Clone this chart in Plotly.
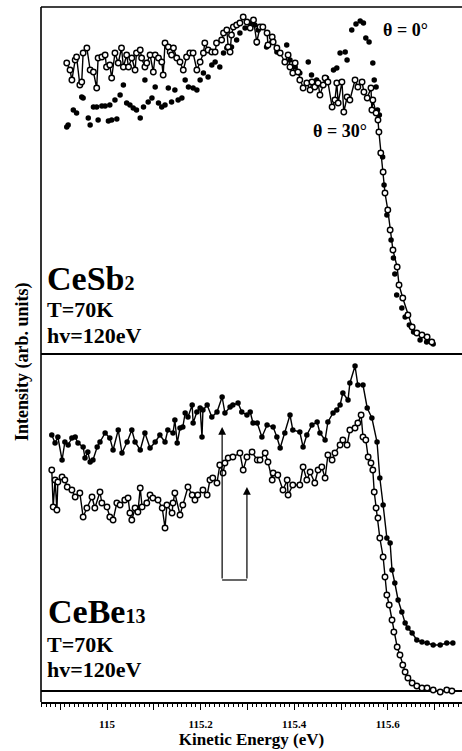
import plotly.graph_objects as go

# ---------------- data ----------------
# CeSb2, theta = 30 deg (open circles, joined)
sb30_x = [114.914, 114.921, 114.925, 114.932, 114.935, 114.942, 114.946, 114.949, 114.957, 114.964,
          114.971, 114.978, 114.981, 114.989, 114.996, 114.999, 115.006, 115.010, 115.017, 115.024,
          115.031, 115.035, 115.042, 115.046, 115.053, 115.060, 115.063, 115.071, 115.074, 115.081,
          115.085, 115.092, 115.099, 115.103, 115.110, 115.117, 115.120, 115.124, 115.131, 115.135,
          115.138, 115.142, 115.149, 115.156, 115.163, 115.170, 115.177, 115.184, 115.192, 115.199,
          115.206, 115.209, 115.216, 115.224, 115.231, 115.234, 115.245, 115.249, 115.256, 115.259,
          115.263, 115.266, 115.270, 115.277, 115.284, 115.291, 115.299, 115.306, 115.313, 115.320,
          115.327, 115.333, 115.342, 115.344, 115.353, 115.355, 115.363, 115.370, 115.380, 115.387,
          115.391, 115.397, 115.402, 115.408, 115.412, 115.419, 115.427, 115.434, 115.438, 115.444,
          115.451, 115.455, 115.462, 115.466, 115.472, 115.481, 115.487, 115.491, 115.494, 115.502,
          115.506, 115.513, 115.519, 115.530, 115.536, 115.545, 115.549, 115.556, 115.564, 115.566,
          115.568, 115.575, 115.579, 115.581, 115.585, 115.590, 115.594, 115.600, 115.605, 115.611,
          115.620, 115.624, 115.632, 115.643, 115.652, 115.662, 115.673, 115.684, 115.694]
sb30_y = [291, 284, 274, 294, 297, 269, 272, 301, 306, 284,
          282, 266, 296, 297, 299, 287, 289, 276, 301, 291,
          306, 287, 299, 287, 296, 284, 301, 304, 296, 287,
          291, 299, 282, 299, 296, 292, 279, 311, 307, 302,
          299, 306, 296, 292, 284, 297, 301, 301, 284, 292,
          301, 311, 304, 302, 302, 311, 314, 321, 324, 307,
          302, 319, 327, 329, 331, 337, 332, 326, 334, 312,
          327, 327, 321, 309, 317, 312, 306, 301, 292, 299,
          287, 281, 291, 282, 274, 266, 271, 264, 272, 267,
          271, 259, 269, 276, 272, 247, 254, 271, 251, 272,
          242, 257, 254, 274, 267, 272, 262, 256, 266, 244,
          254, 241, 234, 222, 201, 182, 161, 144, 124, 104,
          87, 69, 56, 39, 27, 21, 19, 17, 12]

# CeSb2, theta = 0 deg (filled dots, not joined)
sb0_x = [114.914, 114.917, 114.928, 114.935, 114.946, 114.949, 114.960, 114.964, 114.971, 114.978,
         114.981, 114.989, 114.996, 115.003, 115.006, 115.010, 115.017, 115.021, 115.028, 115.035,
         115.042, 115.049, 115.056, 115.063, 115.071, 115.078, 115.081, 115.088, 115.096, 115.103,
         115.110, 115.117, 115.124, 115.131, 115.138, 115.145, 115.152, 115.160, 115.167, 115.174,
         115.184, 115.192, 115.199, 115.206, 115.216, 115.224, 115.231, 115.241, 115.249, 115.256,
         115.266, 115.277, 115.284, 115.295, 115.306, 115.316, 115.323, 115.320, 115.341, 115.363,
         115.384, 115.391, 115.402, 115.412, 115.430, 115.437, 115.448, 115.459, 115.469, 115.484,
         115.491, 115.498, 115.509, 115.513, 115.523, 115.532, 115.541, 115.548, 115.553, 115.560,
         115.568, 115.571, 115.575, 115.578, 115.582, 115.589, 115.592, 115.598, 115.607, 115.612,
         115.615, 115.619, 115.630, 115.637, 115.646, 115.655, 115.669, 115.683, 115.697]
sb0_y = [227, 229, 244, 241, 257, 256, 236, 229, 247, 247,
         234, 248, 248, 233, 249, 234, 254, 235, 259, 269,
         251, 249, 246, 244, 236, 247, 274, 252, 256, 267,
         251, 247, 249, 266, 252, 264, 254, 256, 274, 267,
         266, 264, 274, 281, 277, 289, 292, 287, 301, 306,
         307, 314, 321, 326, 331, 329, 324, 311, 307, 302,
         309, 294, 287, 281, 292, 279, 274, 269, 276, 284,
         286, 301, 302, 294, 324, 330, 333, 331, 316, 312,
         291, 274, 267, 244, 239, 197, 169, 139, 114, 96,
         80, 59, 46, 37, 29, 22, 14, 12, 10]

# CeBe13, upper curve (filled circles, joined)
be_a_x = [114.882, 114.889, 114.895, 114.904, 114.910, 114.917, 114.925, 114.932, 114.938, 114.949,
          114.953, 114.959, 114.964, 114.970, 114.979, 114.985, 114.996, 115.006, 115.013, 115.024,
          115.032, 115.043, 115.053, 115.060, 115.071, 115.081, 115.092, 115.103, 115.113, 115.124,
          115.130, 115.141, 115.145, 115.150, 115.156, 115.162, 115.167, 115.173, 115.182, 115.184,
          115.192, 115.199, 115.203, 115.205, 115.214, 115.224, 115.235, 115.246, 115.252, 115.263,
          115.269, 115.280, 115.288, 115.299, 115.306, 115.312, 115.321, 115.331, 115.342, 115.355,
          115.363, 115.370, 115.380, 115.391, 115.397, 115.412, 115.419, 115.427, 115.438, 115.449,
          115.455, 115.466, 115.472, 115.483, 115.491, 115.498, 115.504, 115.515, 115.519, 115.530,
          115.536, 115.547, 115.556, 115.566, 115.577, 115.583, 115.590, 115.598, 115.605, 115.609,
          115.615, 115.622, 115.630, 115.637, 115.643, 115.652, 115.662, 115.673, 115.684, 115.697,
          115.712, 115.726, 115.739]
be_a_y = [256, 248, 254, 231, 249, 246, 253, 254, 248, 244,
          233, 239, 229, 231, 244, 249, 258, 253, 241, 261,
          238, 249, 261, 249, 241, 258, 243, 249, 256, 249,
          261, 258, 271, 248, 263, 264, 278, 274, 286, 268,
          279, 283, 254, 281, 286, 274, 279, 294, 278, 284,
          286, 288, 279, 276, 279, 268, 268, 254, 266, 264,
          254, 243, 258, 276, 261, 259, 244, 256, 266, 269,
          258, 251, 269, 278, 281, 286, 298, 291, 308, 325,
          306, 306, 283, 273, 249, 213, 186, 153, 148, 121,
          108, 91, 79, 68, 63, 58, 51, 49, 48, 46,
          46, 48, 48]

# CeBe13, lower curve (open circles, joined)
be_b_x = [114.882, 114.885, 114.889, 114.893, 114.895, 114.904, 114.910, 114.915, 114.925, 114.932,
          114.942, 114.949, 114.957, 114.968, 114.974, 114.985, 114.989, 115.000, 115.006, 115.013,
          115.021, 115.028, 115.038, 115.045, 115.049, 115.053, 115.060, 115.066, 115.071, 115.075,
          115.085, 115.092, 115.098, 115.109, 115.118, 115.124, 115.128, 115.139, 115.141, 115.145,
          115.156, 115.162, 115.173, 115.182, 115.188, 115.194, 115.205, 115.214, 115.220, 115.226,
          115.235, 115.241, 115.248, 115.252, 115.259, 115.269, 115.284, 115.291, 115.299, 115.310,
          115.321, 115.327, 115.338, 115.344, 115.353, 115.355, 115.365, 115.376, 115.385, 115.387,
          115.397, 115.412, 115.419, 115.427, 115.434, 115.444, 115.451, 115.459, 115.466, 115.472,
          115.481, 115.487, 115.498, 115.504, 115.513, 115.519, 115.530, 115.536, 115.543, 115.547,
          115.553, 115.558, 115.564, 115.568, 115.571, 115.575, 115.579, 115.583, 115.590, 115.594,
          115.598, 115.603, 115.609, 115.613, 115.620, 115.626, 115.632, 115.637, 115.643, 115.652,
          115.662, 115.673, 115.684, 115.697, 115.712, 115.726, 115.737]
be_b_y = [221, 184, 211, 181, 209, 214, 211, 204, 201, 194,
          198, 174, 183, 194, 183, 199, 188, 184, 174, 171,
          188, 186, 191, 193, 178, 171, 183, 179, 203, 184,
          188, 196, 193, 191, 183, 163, 186, 178, 188, 198,
          176, 186, 204, 196, 191, 196, 201, 196, 211, 213,
          208, 226, 218, 228, 233, 234, 238, 221, 234, 239,
          231, 231, 238, 229, 211, 218, 216, 201, 211, 196,
          206, 206, 224, 211, 219, 208, 221, 224, 213, 236,
          231, 238, 246, 251, 246, 261, 263, 268, 276, 254,
          251, 234, 228, 221, 199, 183, 173, 153, 134, 114,
          96, 86, 71, 59, 44, 36, 26, 19, 13, 8,
          5, 3, 3, 1, -1, 1, 0]

# arrows marking the two peak positions (eV) and their extent (intensity)
arrow_x = [115.246, 115.299]
arrow_tip_y = [264, 204]
arrow_base_y = 111

tick_vals = [114.9, 115.0, 115.1, 115.2, 115.3, 115.4, 115.5, 115.6, 115.7]
tick_text = ["", "115", "", "115.2", "", "115.4", "", "115.6", ""]

# ---------------- figure ----------------
W, H = 462, 751
ML, MR, MT, MB = 41, 0, 7, 49
PW, PH = W - ML - MR, H - MT - MB
SPLIT = (702 - 354) / PH

SERIF = "Liberation Serif"
BLACK = "black"

fig = go.Figure()
line_style = dict(color=BLACK, width=1.4)
fill_marker = dict(symbol="circle", size=5.5, color=BLACK)
open_marker = dict(symbol="circle", size=5.5, color="white", line=dict(width=1.4, color=BLACK))

fig.add_trace(go.Scatter(x=sb0_x, y=sb0_y, mode="markers", marker=fill_marker,
                         xaxis="x2", yaxis="y2", name="θ = 0°"))
fig.add_trace(go.Scatter(x=sb30_x, y=sb30_y, mode="lines+markers", line=line_style,
                         marker=open_marker, xaxis="x2", yaxis="y2", name="θ = 30°"))
fig.add_trace(go.Scatter(x=be_a_x, y=be_a_y, mode="lines+markers", line=line_style,
                         marker=fill_marker, xaxis="x", yaxis="y", name="CeBe13 a"))
fig.add_trace(go.Scatter(x=be_b_x, y=be_b_y, mode="lines+markers", line=line_style,
                         marker=open_marker, xaxis="x", yaxis="y", name="CeBe13 b"))

xr = [115 + (ML - 107) / 468, 115 + (W - MR - 107) / 468]

fig.update_layout(
    width=W, height=H,
    margin=dict(l=ML, r=MR, t=MT, b=MB),
    paper_bgcolor="white", plot_bgcolor="white",
    showlegend=False,
    font=dict(family=SERIF, color=BLACK),
    xaxis=dict(domain=[0, 1], range=xr, anchor="y",
               showgrid=False, zeroline=False, showline=True, linecolor=BLACK, linewidth=1.5,
               ticks="outside", ticklen=6, tickwidth=1.2, tickcolor=BLACK,
               tickvals=tick_vals, ticktext=tick_text, ticklabelstandoff=5,
               tickfont=dict(family=SERIF, size=11, weight="bold"),
               minor=dict(dtick=0.01, tick0=115, ticks="outside", ticklen=3, tickwidth=1, tickcolor=BLACK),
               title=dict(text="Kinetic Energy (eV)", font=dict(family=SERIF, size=17, weight="bold"), standoff=3)),
    yaxis=dict(domain=[0, SPLIT], range=[-11, 337], showgrid=False, showticklabels=False, ticks="",
               zeroline=True, zerolinecolor=BLACK, zerolinewidth=1.5, showline=False),
    xaxis2=dict(domain=[0, 1], range=xr, anchor="y2", matches="x", visible=False),
    yaxis2=dict(domain=[SPLIT, 1], range=[0, 347], showgrid=False, showticklabels=False, ticks="",
                zeroline=False, showline=False),
)

# frame lines
fig.add_shape(type="line", xref="paper", yref="paper", x0=0, x1=0, y0=0, y1=1, line=dict(color=BLACK, width=1.6))
fig.add_shape(type="line", xref="paper", yref="paper", x0=0, x1=1, y0=1, y1=1, line=dict(color=BLACK, width=1.6))
fig.add_shape(type="line", xref="paper", yref="paper", x0=0, x1=1, y0=SPLIT, y1=SPLIT, line=dict(color=BLACK, width=1.8))

# bracket with arrows
fig.add_shape(type="line", xref="x", yref="y", x0=arrow_x[0], x1=arrow_x[1], y0=arrow_base_y, y1=arrow_base_y,
              line=dict(color=BLACK, width=1.2))
for ax_, tip in zip(arrow_x, arrow_tip_y):
    fig.add_annotation(x=ax_, y=tip, ax=ax_, ay=arrow_base_y, xref="x", yref="y", axref="x", ayref="y",
                       text="", showarrow=True, arrowhead=2, arrowsize=1.3, arrowwidth=1.2, arrowcolor=BLACK)

def px(xp):
    return (xp - ML) / PW

def py(yp):
    return (H - MB - yp) / PH

def label(text, xp, yp, size, anchor="left"):
    fig.add_annotation(x=px(xp), y=py(yp), xref="paper", yref="paper", text=text, showarrow=False,
                       xanchor=anchor, yanchor="middle",
                       font=dict(family=SERIF, size=size, color=BLACK, weight="bold"))

label("CeSb<span style='font-size:20px'>2</span>", 45, 278, 34)
label("T=70K", 45, 309, 22)
label("hv=120eV", 45, 335, 22)
label("CeBe<span style='font-size:20px'>13</span>", 46, 611, 34)
label("T=70K", 45, 644, 22)
label("hv=120eV", 45, 669, 22)
label("θ = 0°", 405, 30, 18, "center")
label("θ = 30°", 340, 131, 18, "center")

fig.add_annotation(x=px(23), y=py(362), xref="paper", yref="paper", text="Intensity (arb. units)",
                   showarrow=False, textangle=-90, xanchor="center", yanchor="middle",
                   font=dict(family=SERIF, size=18, color=BLACK, weight="bold"))

fig.write_html("out.html", config={"displayModeBar": False},
               post_script="document.body.style.margin='0px';")
